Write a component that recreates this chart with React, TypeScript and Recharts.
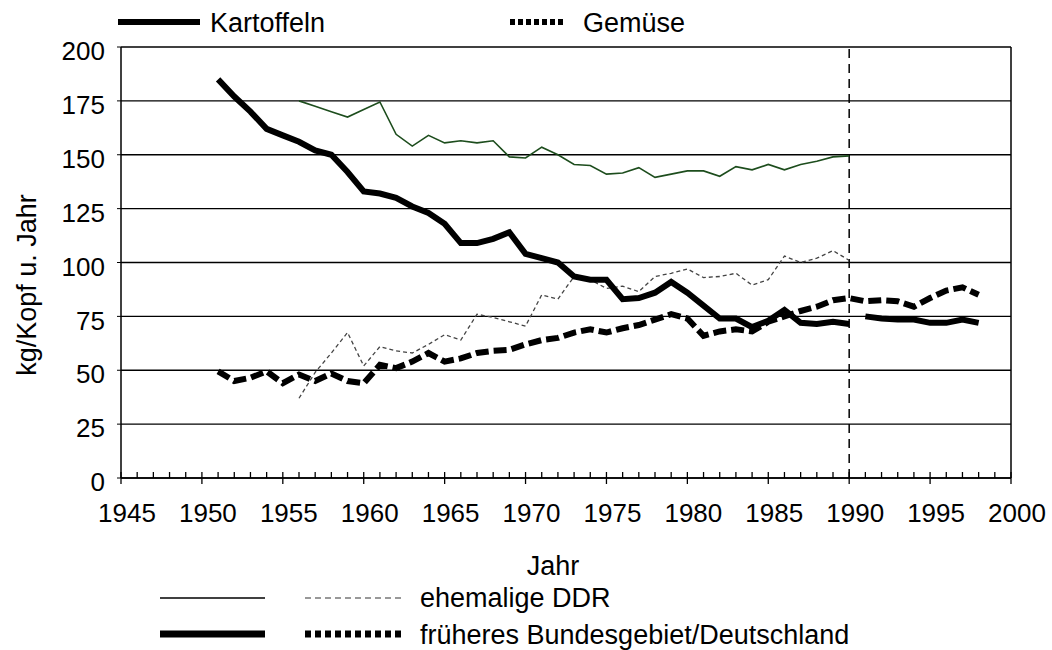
import React from 'react';
import { LineChart, Line, XAxis, YAxis, CartesianGrid, ReferenceLine } from 'recharts';

// Jahre 1951 bis 1998
const years = [
  1951, 1952, 1953, 1954, 1955, 1956, 1957, 1958, 1959, 1960,
  1961, 1962, 1963, 1964, 1965, 1966, 1967, 1968, 1969, 1970,
  1971, 1972, 1973, 1974, 1975, 1976, 1977, 1978, 1979, 1980,
  1981, 1982, 1983, 1984, 1985, 1986, 1987, 1988, 1989, 1990,
  1991, 1992, 1993, 1994, 1995, 1996, 1997, 1998,
];

// früheres Bundesgebiet, Kartoffeln 1951-1990
const kartoffelnWest = [
  185, 177, 170, 162, 159, 156, 152, 150, 142, 133,
  132, 130, 126, 123, 118, 109, 109, 111, 114, 104,
  102, 100, 93.5, 92, 92, 83, 83.5, 86, 91, 86,
  80, 74, 74, 70, 73, 78, 72, 71.5, 72.5, 71.5,
];

// Deutschland, Kartoffeln 1991-1998
const kartoffelnDeutschland = [75, 74, 73.5, 73.5, 72, 72, 73.5, 72];

// früheres Bundesgebiet/Deutschland, Gemüse 1951-1998
const gemueseWest = [
  49.5, 45, 46.5, 49.5, 44, 48, 45, 48.5, 45, 44,
  52.5, 51, 54, 58, 54, 55.5, 58, 59, 59.5, 62,
  64, 65, 67.5, 69, 67.5, 69.5, 71, 73.5, 76, 74,
  66, 68, 69, 68, 72.5, 75, 77.5, 79.5, 82.5, 83.5,
  82, 82.5, 82, 79.5, 83.5, 87, 88.5, 85,
];

// ehemalige DDR 1956-1990
const ddrStart = 1956;
const kartoffelnDDR = [
  175, 172.5, 170, 167.5, 171, 174.5, 159.5, 154, 159, 155.5,
  156.5, 155.5, 156.5, 149, 148.5, 153.5, 150, 145.5, 145, 141,
  141.5, 144, 139.5, 141, 142.5, 142.5, 140, 144.5, 143, 145.5,
  143, 145.5, 147, 149, 149.5,
];
const gemueseDDR = [
  37, 49, 58, 67.5, 52, 61, 59, 58, 62, 66.5,
  64, 76, 74.5, 72.5, 70.5, 85, 83, 93.5, 92, 88,
  89, 86.5, 93.5, 95, 97, 93, 93.5, 95, 89.5, 92,
  103, 100, 102, 105.5, 101,
];

const yTicks = [0, 25, 50, 75, 100, 125, 150, 175, 200];
const xLabels = [1945, 1950, 1955, 1960, 1965, 1970, 1975, 1980, 1985, 1990, 1995, 2000];
const xMinorTicks = Array.from({ length: 56 }, (_, i) => 1945 + i);

const data = years.map((year, i) => {
  const d = year - ddrStart;
  return {
    year,
    kartWest: i < kartoffelnWest.length ? kartoffelnWest[i] : null,
    kartGesamt: i >= kartoffelnWest.length ? kartoffelnDeutschland[i - kartoffelnWest.length] : null,
    gemWest: gemueseWest[i],
    kartDDR: d >= 0 && d < kartoffelnDDR.length ? kartoffelnDDR[d] : null,
    gemDDR: d >= 0 && d < gemueseDDR.length ? gemueseDDR[d] : null,
  };
});

const FONT = '"Liberation Sans", Arial, sans-serif';

const YearTick = (props: any) => {
  const { x, y, payload } = props;
  const major = xLabels.includes(payload.value);
  return (
    <g>
      <line x1={x} x2={x} y1={y - 6} y2={major ? y + 6 : y} stroke="#000" strokeWidth={1.3} />
      {major && (
        <text x={x + 6} y={y + 44} textAnchor="middle" fontSize={26} fontFamily={FONT} fill="#000">
          {payload.value}
        </text>
      )}
    </g>
  );
};

const Legends = () => (
  <svg width={1052} height={650} style={{ position: 'absolute', left: 0, top: 0, pointerEvents: 'none' }}>
    <g fontFamily={FONT} fontSize={27} fill="#000">
      <line x1={118} x2={200} y1={22} y2={22} stroke="#000" strokeWidth={6} />
      <text x={210} y={32}>Kartoffeln</text>
      <line x1={510} x2={566} y1={22} y2={22} stroke="#000" strokeWidth={6} strokeDasharray="5 3" />
      <text x={583} y={32}>Gemüse</text>

      <text x={553} y={575} textAnchor="middle">Jahr</text>
      <text x={36} y={285} textAnchor="middle" transform="rotate(-90 36 285)">kg/Kopf u. Jahr</text>

      <line x1={160} x2={265} y1={598} y2={598} stroke="#000" strokeWidth={1.3} />
      <line x1={305} x2={402} y1={598} y2={598} stroke="#333" strokeWidth={1.2} strokeDasharray="6 4" />
      <text x={420} y={607}>ehemalige DDR</text>
      <line x1={160} x2={265} y1={634} y2={634} stroke="#000" strokeWidth={7} />
      <line x1={305} x2={402} y1={634} y2={634} stroke="#000" strokeWidth={7} strokeDasharray="6 4" />
      <text x={420} y={644}>früheres Bundesgebiet/Deutschland</text>
    </g>
  </svg>
);

export default function App() {
  return (
    <div style={{ position: 'absolute', left: 0, top: 0, width: 1052, height: 650, background: '#fff' }}>
      <LineChart width={1052} height={650} data={data} margin={{ top: 47, right: 41, left: 0, bottom: 132 }}>
        <CartesianGrid horizontal vertical={false} stroke="#000" strokeWidth={1.3} />
        <XAxis
          dataKey="year"
          type="number"
          domain={[1945, 2000]}
          ticks={xMinorTicks}
          interval={0}
          height={40}
          tickSize={0}
          tickMargin={0}
          tickLine={false}
          tick={<YearTick />}
          axisLine={{ stroke: '#000', strokeWidth: 1.5 }}
        />
        <YAxis
          type="number"
          domain={[0, 200]}
          ticks={yTicks}
          width={121}
          tickSize={4}
          tickMargin={12}
          tickLine={{ stroke: '#000' }}
          axisLine={{ stroke: '#000', strokeWidth: 1.5 }}
          tick={{ fontSize: 26, fontFamily: FONT, fill: '#000', dy: 4 }}
        />
        <ReferenceLine x={2000} stroke="#000" strokeWidth={1.5} />
        <ReferenceLine x={1990} stroke="#000" strokeWidth={1.5} strokeDasharray="9 6" />
        <Line dataKey="kartDDR" stroke="#1d4d1d" strokeWidth={1.6} dot={false} isAnimationActive={false} />
        <Line dataKey="gemDDR" stroke="#444" strokeWidth={1.3} strokeDasharray="4 3" dot={false} isAnimationActive={false} />
        <Line dataKey="gemWest" stroke="#000" strokeWidth={6} strokeDasharray="13 5" dot={false} isAnimationActive={false} />
        <Line dataKey="kartWest" stroke="#000" strokeWidth={6} dot={false} isAnimationActive={false} />
        <Line dataKey="kartGesamt" stroke="#000" strokeWidth={6} dot={false} isAnimationActive={false} />
      </LineChart>
      <Legends />
    </div>
  );
}
